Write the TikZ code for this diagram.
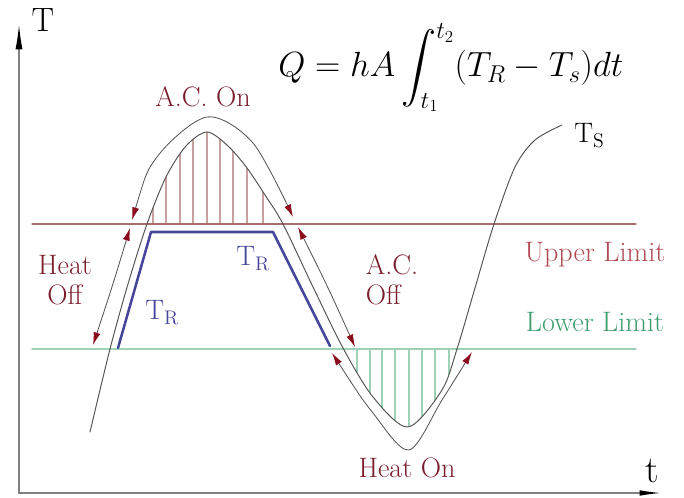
\documentclass[tikz,border=0pt]{standalone}
\usepackage{amsmath}
\usetikzlibrary{arrows.meta}
\definecolor{labred}{HTML}{7A1E2C}
\definecolor{uplab}{HTML}{B04A55}
\definecolor{lowlab}{HTML}{3E9C6E}
\definecolor{upline}{HTML}{A86E6E}
\definecolor{lowline}{HTML}{9CD3B8}
\definecolor{uphatch}{HTML}{C8A0A0}
\definecolor{trblue}{HTML}{45459A}
\definecolor{arrred}{HTML}{8A0E1E}
\definecolor{curvegray}{HTML}{555555}
\newcommand{\curveTs}{(90,66) (110,149) (128,214) (147,274) (166,321) (186,352) (207,366) (228,352) (247,330) (265,303) (283,274) (313,211) (343,150) (373,101) (408,71) (442,108) (457,149) (475,210) (494,274) (515,331) (535,358) (562,373)}

\begin{document}
\begin{tikzpicture}[x=0.025cm,y=0.025cm,line cap=round,
  >={Latex[length=9pt,width=5pt,color=arrred]},
  lab/.style={font=\fontsize{20}{21}\selectfont,align=center},
  flow/.style={<->,curvegray,line width=0.6pt}]
\useasboundingbox (0,0) rectangle (684,498);
\begin{scope}
\clip plot[smooth] coordinates {\curveTs} -- (562,0) -- (90,0) -- cycle;
\foreach \x in {153,166,180,193,207,220,233,247,263}
  \draw[uphatch,line width=0.8pt] (\x,274) -- (\x,400);
\end{scope}
\begin{scope}
\clip plot[smooth] coordinates {\curveTs} -- (562,498) -- (90,498) -- cycle;
\foreach \x in {357,370,382,395,409,422,435,449}
  \draw[lowline,line width=0.8pt] (\x,149) -- (\x,40);
\end{scope}
\draw[upline,line width=0.8pt] (32,274) -- (636,274);
\draw[lowline,line width=0.8pt] (32,149) -- (636,149);
\draw[gray,line width=1.1pt,-{Latex[length=18pt,width=5pt,black]}] (19,5) -- (19,474);
\draw[gray,line width=1.1pt,-{Latex[length=16pt,width=4pt,black]}] (19,5) -- (662,5);
\node[font=\fontsize{24}{24}\selectfont] (Taxis) at (43,478) {T};
\node[font=\fontsize{27}{27}\selectfont] (taxis) at (652,27) {t};
\draw[trblue,line width=1.8pt,line join=round] (118,150) -- (151,266) -- (273,266) -- (330,152);
\draw[curvegray,line width=0.7pt] plot[smooth] coordinates {\curveTs};
\draw[flow] plot[smooth] coordinates {(132,278) (157,341) (207,381) (253,355) (293,281)};
\draw[flow] plot[smooth] coordinates {(130,270) (111,208) (93,153)};
\draw[flow] plot[smooth] coordinates {(298,271) (329,208) (355,151)};
\draw[flow] plot[smooth] coordinates {(332,145) (373,85) (409,48) (442,98) (472,146)};
\node[lab,labred] (acon) at (203,401) {A.C. On};
\node[lab,labred] (heatoff) at (65,218) {Heat\\Off};
\node[lab,labred,align=left] (acoff) at (392,218) {A.C.\\Off};
\node[lab,labred] (heaton) at (407,30) {Heat On};
\node[lab,uplab] (upper) at (595,243) {Upper Limit};
\node[lab,lowlab] (lower) at (595,176) {Lower Limit};
\node[lab,trblue,anchor=base west,inner sep=0pt] (trleft) at (145,178) {T\textsubscript{R}};
\node[lab,trblue,anchor=base west,inner sep=0pt] (trright) at (236,232) {T\textsubscript{R}};
\node[lab,anchor=base west,inner sep=0pt] (ts) at (574,355) {T\textsubscript{S}};
\node[anchor=base west,inner sep=0pt,font=\fontsize{24}{27}\selectfont] (heatq) at (278,421)
  {$\displaystyle Q=hA\int_{t_1}^{t_2}(T_R-T_s)dt$};
\end{tikzpicture}
\end{document}
